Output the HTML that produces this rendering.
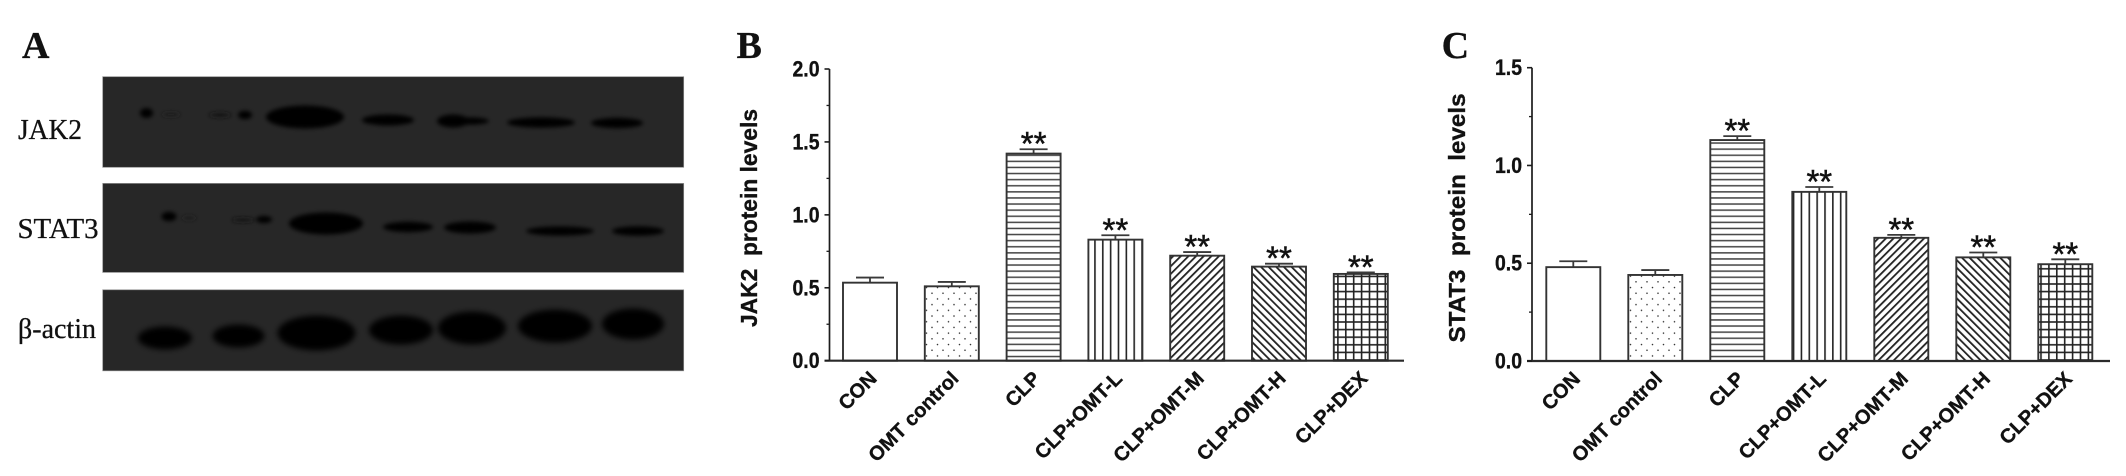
<!DOCTYPE html>
<html lang="en">
<head>
<meta charset="utf-8">
<title>JAK2 and STAT3 protein levels</title>
<style>
html,body{margin:0;padding:0;background:#fff;width:2126px;height:476px;overflow:hidden}
svg{display:block;filter:blur(0.35px)}
text{fill:#111}
.sans{font-family:"Liberation Sans",sans-serif;font-weight:700;stroke:#111;stroke-width:0.35}
.serif{font-family:"Liberation Serif",serif;stroke:#111;stroke-width:0.3}
</style>
</head>
<body>
<svg id="figure" xmlns="http://www.w3.org/2000/svg" width="2126" height="476" viewBox="0 0 2126 476">
<defs>
<filter id="blur-band" x="-40%" y="-100%" width="180%" height="300%"><feGaussianBlur stdDeviation="2"/></filter>
<filter id="blur-soft" x="-40%" y="-80%" width="180%" height="260%"><feGaussianBlur stdDeviation="3"/></filter>
<pattern id="pat-dots" patternUnits="userSpaceOnUse" width="11" height="11.4"><circle cx="2.5" cy="2.5" r="0.8" fill="#333"/><circle cx="8" cy="8.2" r="0.8" fill="#333"/></pattern>
<pattern id="pat-horizontal" patternUnits="userSpaceOnUse" width="10" height="6.1"><rect width="10" height="1.5" y="2" fill="#444"/></pattern>
<pattern id="pat-vertical" patternUnits="userSpaceOnUse" width="7.85" height="10"><rect width="1.6" height="10" x="3" fill="#222"/></pattern>
<pattern id="pat-forward" patternUnits="userSpaceOnUse" width="5.4" height="5.4" patternTransform="rotate(45)"><rect width="1.8" height="5.4" fill="#222"/></pattern>
<pattern id="pat-back" patternUnits="userSpaceOnUse" width="5.4" height="5.4" patternTransform="rotate(-45)"><rect width="1.8" height="5.4" fill="#222"/></pattern>
<pattern id="pat-grid" patternUnits="userSpaceOnUse" width="7.9" height="7.6"><rect width="1.6" height="7.6" x="2" fill="#222"/><rect width="7.9" height="1.6" y="2" fill="#222"/></pattern>
</defs>

<g id="panel-a">
<text class="serif" x="22" y="58" font-size="38" font-weight="700">A</text>
<text class="serif" x="18" y="139" font-size="28" textLength="64" lengthAdjust="spacingAndGlyphs">JAK2</text>
<text class="serif" x="17.5" y="238" font-size="28" textLength="81" lengthAdjust="spacingAndGlyphs">STAT3</text>
<text class="serif" x="18" y="338" font-size="28" textLength="78" lengthAdjust="spacingAndGlyphs">β-actin</text>

<g>
<rect x="102.7" y="76.7" width="581" height="90.6" fill="#272727" stroke="#8c8c8c" stroke-width="0.7"/>
<g filter="url(#blur-band)" fill="#040404">
<ellipse cx="146.5" cy="113" rx="6.5" ry="5"/>
<ellipse cx="171" cy="114.5" rx="9" ry="1.6" fill="#1c1c1c"/>
<ellipse cx="220" cy="115" rx="11" ry="2.2" fill="#121212"/>
<ellipse cx="245" cy="115" rx="7" ry="4.2"/>
<ellipse cx="305" cy="117" rx="39" ry="11.5"/>
<ellipse cx="388" cy="120" rx="26" ry="5.5"/>
<ellipse cx="453" cy="121" rx="16" ry="6.5"/>
<ellipse cx="470" cy="121" rx="19" ry="3.6"/>
<ellipse cx="541" cy="122.5" rx="34" ry="5.2"/>
<ellipse cx="617" cy="123" rx="26" ry="5.2"/>
</g>
</g>

<g>
<rect x="102.7" y="183.4" width="581" height="89" fill="#272727" stroke="#8c8c8c" stroke-width="0.7"/>
<g filter="url(#blur-band)" fill="#040404">
<ellipse cx="169" cy="216.5" rx="7.5" ry="4.8"/>
<ellipse cx="189" cy="218" rx="7" ry="1.5" fill="#1c1c1c"/>
<ellipse cx="243" cy="220" rx="11" ry="2" fill="#141414"/>
<ellipse cx="264" cy="219.5" rx="8" ry="3.6"/>
<ellipse cx="326" cy="223.5" rx="37" ry="11"/>
<ellipse cx="408" cy="227" rx="25" ry="5.2"/>
<ellipse cx="470" cy="227.5" rx="26" ry="6"/>
<ellipse cx="560" cy="231" rx="34" ry="4.6"/>
<ellipse cx="638" cy="231" rx="26" ry="4.8"/>
</g>
</g>

<g>
<rect x="102.7" y="289.8" width="581" height="81" fill="#272727" stroke="#8c8c8c" stroke-width="0.7"/>
<g filter="url(#blur-soft)" fill="#030303">
<ellipse cx="165" cy="338" rx="27" ry="11.5"/>
<ellipse cx="238.5" cy="336" rx="26" ry="11.5"/>
<ellipse cx="316.5" cy="333" rx="39" ry="17.5"/>
<ellipse cx="401" cy="330" rx="32" ry="14.5"/>
<ellipse cx="472" cy="328" rx="34" ry="16.5"/>
<ellipse cx="555" cy="326" rx="37" ry="16.5"/>
<ellipse cx="633" cy="324" rx="31" ry="15.5"/>
</g>
</g>
</g>

<g id="chart-b"></g>
<g id="chart-c"></g>
</svg>

<script>
const categories = ["CON", "OMT control", "CLP", "CLP+OMT-L", "CLP+OMT-M", "CLP+OMT-H", "CLP+DEX"];
const fills = ["none", "pat-dots", "pat-horizontal", "pat-vertical", "pat-forward", "pat-back", "pat-grid"];
const significance = ["", "", "**", "**", "**", "**", "**"];

const jak2Values = [0.535, 0.51, 1.42, 0.83, 0.72, 0.645, 0.595];
const jak2ErrorTops = [0.57, 0.54, 1.45, 0.86, 0.745, 0.665, 0.605];
const jak2MajorTicks = ["0.0", "0.5", "1.0", "1.5", "2.0"];
const jak2MinorTicks = [0.25, 0.75, 1.25, 1.75];

const stat3Values = [0.48, 0.44, 1.13, 0.865, 0.63, 0.53, 0.495];
const stat3ErrorTops = [0.51, 0.465, 1.15, 0.89, 0.645, 0.555, 0.52];
const stat3MajorTicks = ["0.0", "0.5", "1.0", "1.5"];
const stat3MinorTicks = [0.25, 0.75, 1.25];

const SVGNS = "http://www.w3.org/2000/svg";

function mk(tag, attrs, parent) {
  const el = document.createElementNS(SVGNS, tag);
  for (const k in attrs) el.setAttribute(k, attrs[k]);
  parent.appendChild(el);
  return el;
}

function drawChart(cfg) {
  const root = document.getElementById(cfg.id);
  const yScale = v => cfg.baseY - (v / cfg.maxV) * (cfg.baseY - cfg.topY);
  const xScale = i => cfg.firstBarX + i * cfg.pitch;
  const axisColor = "#1c1c1c";

  const letter = mk("text", {class: "serif", x: cfg.letterX, y: 58, "font-size": 38, "font-weight": 700}, root);
  letter.textContent = cfg.letter;
  
  

  const title = mk("text", {
    class: "sans", "font-size": 23, "text-anchor": "middle",
    transform: "translate(" + cfg.titleX + "," + cfg.titleY + ") rotate(-90)",
    textLength: cfg.titleLen, lengthAdjust: "spacingAndGlyphs"
  }, root);
  title.setAttribute("xml:space", "preserve");
  title.style.whiteSpace = "pre";
  title.textContent = cfg.title;
  
  

  categories.forEach((name, i) => {
    const x = xScale(i);
    const w = cfg.barW;
    const top = yScale(cfg.values[i]);
    const errTop = yScale(cfg.errors[i]);
    const cx = x + w / 2;

    const err = mk("path", {
      d: "M" + (cx - 14) + " " + errTop + "H" + (cx + 14) + "M" + cx + " " + errTop + "V" + top,
      stroke: "#3a3a3a", "stroke-width": 1.8, fill: "none"
    }, root);
    
    

    const bar = mk("rect", {
      x: x, y: top, width: w, height: cfg.baseY - top,
      fill: fills[i] === "none" ? "#fff" : "url(#" + fills[i] + ")",
      stroke: "#333", "stroke-width": 1.9
    }, root);
    
    

    if (significance[i]) {
      const star = mk("text", {
        x: cx, y: errTop + 6, "text-anchor": "middle", "font-size": 33,
        stroke: "#111", "stroke-width": 0.5,
        "font-family": '"Liberation Sans",sans-serif'
      }, root);
      star.textContent = significance[i];
      
      
    }

    const label = mk("text", {
      class: "sans", "font-size": 20, "text-anchor": "end",
      transform: "translate(" + (cx + 8) + "," + (cfg.baseY + 19) + ") rotate(-45)"
    }, root);
    label.textContent = name;
    
    
  });

  const yAxis = mk("line", {x1: cfg.axisX, x2: cfg.axisX, y1: cfg.topY, y2: cfg.baseY, stroke: axisColor, "stroke-width": 1.7}, root);
  
  

  const xAxis = mk("line", {x1: cfg.axisX - 5, x2: cfg.axisEnd, y1: cfg.baseY, y2: cfg.baseY, stroke: "#2a2a2a", "stroke-width": 2.2}, root);
  
  

  cfg.major.forEach(t => {
    const y = yScale(parseFloat(t));
    const tick = mk("line", {x1: cfg.axisX - 5, x2: cfg.axisX, y1: y, y2: y, stroke: axisColor, "stroke-width": 1.6}, root);
    
    
    const lab = mk("text", {
      class: "sans", "font-size": 22, "text-anchor": "end",
      x: cfg.axisX - 10, y: y + 7.5, textLength: 27, lengthAdjust: "spacingAndGlyphs"
    }, root);
    lab.textContent = t;
    
    
  });

  cfg.minor.forEach(v => {
    const y = yScale(v);
    const tick = mk("line", {x1: cfg.axisX - 3, x2: cfg.axisX, y1: y, y2: y, stroke: axisColor, "stroke-width": 1.3}, root);
    
    
  });
}

drawChart({
  id: "chart-b", letter: "B", letterX: 736.5, title: "JAK2  protein levels",
  titleX: 757, titleY: 218, titleLen: 218,
  axisX: 829.5, axisEnd: 1404, topY: 69, baseY: 360.7, maxV: 2,
  firstBarX: 843, pitch: 81.8, barW: 54,
  values: jak2Values, errors: jak2ErrorTops, major: jak2MajorTicks, minor: jak2MinorTicks
});

drawChart({
  id: "chart-c", letter: "C", letterX: 1441.6, title: "STAT3  protein  levels",
  titleX: 1465, titleY: 218, titleLen: 249,
  axisX: 1532, axisEnd: 2110, topY: 67.7, baseY: 361, maxV: 1.5,
  firstBarX: 1546.3, pitch: 82, barW: 54,
  values: stat3Values, errors: stat3ErrorTops, major: stat3MajorTicks, minor: stat3MinorTicks
});
</script>
</body>
</html>
